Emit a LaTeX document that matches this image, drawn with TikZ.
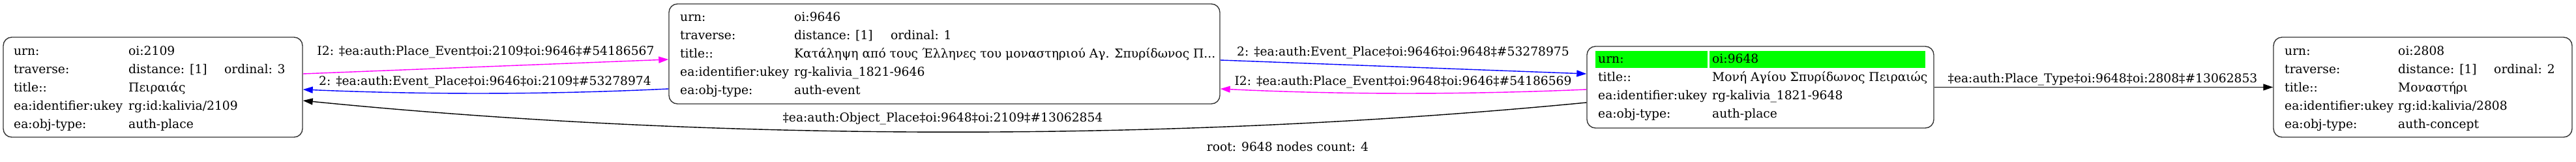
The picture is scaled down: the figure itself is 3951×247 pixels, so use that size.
\documentclass[tikz,border=0pt]{standalone}
\usepackage{fontspec}
\setmainfont{DejaVu Serif}
\usetikzlibrary{arrows.meta}
\definecolor{mag}{HTML}{FF00FF}
\definecolor{blu}{HTML}{0000FF}
\definecolor{grn}{HTML}{00FF00}
\newcommand{\dfont}{\fontsize{18.7}{22}\selectfont}
\begin{document}
\begin{tikzpicture}[x=1pt,y=-1pt,
  box/.style={draw=black!80, line width=1.4pt, rounded corners=13pt, inner sep=0pt},
  cell/.style={inner sep=0pt, anchor=base west, font=\dfont},
  elabel/.style={inner sep=0pt, font=\dfont},
  conn/.style={line width=1.4pt, -{Triangle[length=15pt,width=10pt]}},
]
\useasboundingbox (0,0) rectangle (3951,247);

% ---- node oi:2109
\node[box, minimum width=459pt, minimum height=153pt] (n2109) at (234.5,133.5) {};
\node[cell] (a1) at (21,84) {urn:};
\node[cell] (av1) at (197,84) {oi:2109};
\node[cell] (a2) at (21,112) {traverse:};
\node[cell] (av2) at (197,112) {distance: [1]};
\node[cell] (ao) at (344,112) {ordinal: 3};
\node[cell] (a3) at (21,140) {title::};
\node[cell] (av3) at (197,140) {Πειραιάς};
\node[cell] (a4) at (21,168) {ea:identifier:ukey};
\node[cell] (av4) at (197,168) {rg:id:kalivia/2109};
\node[cell] (a5) at (21,196) {ea:obj-type:};
\node[cell] (av5) at (197,196) {auth-place};

% ---- node oi:9646
\node[box, minimum width=845pt, minimum height=153pt] (n9646) at (1448.5,82.5) {};
\node[cell] (b1) at (1043,32) {urn:};
\node[cell] (bv1) at (1218,32) {oi:9646};
\node[cell] (b2) at (1043,60) {traverse:};
\node[cell] (bv2) at (1218,60) {distance: [1]};
\node[cell] (bo) at (1366,60) {ordinal: 1};
\node[cell] (b3) at (1043,88) {title::};
\node[cell] (bv3) at (1218,88) {Κατάληψη από τους Έλληνες του μοναστηριού Αγ. Σπυρίδωνος Π...};
\node[cell] (b4) at (1043,116) {ea:identifier:ukey};
\node[cell] (bv4) at (1218,116) {rg-kalivia\_1821-9646};
\node[cell] (b5) at (1043,144) {ea:obj-type:};
\node[cell] (bv5) at (1218,144) {auth-event};

% ---- node oi:9648 (root)
\node[box, minimum width=532pt, minimum height=125pt] (n9648) at (2700,133.5) {};
\fill[grn] (2447,78) rectangle (2619,104);
\fill[grn] (2622,78) rectangle (2953,104);
\node[cell] (c1) at (2451,96) {urn:};
\node[cell] (cv1) at (2626,96) {oi:9648};
\node[cell] (c2) at (2451,124) {title::};
\node[cell] (cv2) at (2626,124) {Μονή Αγίου Σπυρίδωνος Πειραιώς};
\node[cell] (c3) at (2451,152) {ea:identifier:ukey};
\node[cell] (cv3) at (2626,152) {rg-kalivia\_1821-9648};
\node[cell] (c4) at (2451,180) {ea:obj-type:};
\node[cell] (cv4) at (2626,180) {auth-place};

% ---- node oi:2808
\node[box, minimum width=458pt, minimum height=153pt] (n2808) at (3716,133.5) {};
\node[cell] (d1) at (3504,84) {urn:};
\node[cell] (dv1) at (3678,84) {oi:2808};
\node[cell] (d2) at (3504,112) {traverse:};
\node[cell] (dv2) at (3678,112) {distance: [1]};
\node[cell] (do) at (3825,112) {ordinal: 2};
\node[cell] (d3) at (3504,140) {title::};
\node[cell] (dv3) at (3678,140) {Μοναστήρι};
\node[cell] (d4) at (3504,168) {ea:identifier:ukey};
\node[cell] (dv4) at (3678,168) {rg:id:kalivia/2808};
\node[cell] (d5) at (3504,196) {ea:obj-type:};
\node[cell] (dv5) at (3678,196) {auth-concept};

% ---- connectors
\draw[conn, mag] ([yshift=20.5pt]n2109.east) -- ([yshift=-8.5pt]n9646.west);
\draw[conn, blu] ([yshift=-53.5pt]n9646.west) .. controls (839,145) and (651,145) .. ([yshift=-3.5pt]n2109.east);
\draw[conn, black] ([yshift=-23.5pt]n9648.west) .. controls (1800,218) and (1100,217) .. ([yshift=-20.5pt]n2109.east);
\draw[conn, blu] ([yshift=-9.5pt]n9646.east) -- ([yshift=20.5pt]n9648.west);
\draw[conn, mag] ([yshift=-3.5pt]n9648.west) .. controls (2246,145) and (2058,145) .. ([yshift=-53.5pt]n9646.east);
\draw[conn, black] (n9648.east) -- (n2808.west);

% ---- connector labels
\node[elabel] (l1) at (745,80) {I2: ‡ea:auth:Place\_Event‡oi:2109‡oi:9646‡\#54186567};
\node[elabel] (l2) at (744,126) {2: ‡ea:auth:Event\_Place‡oi:9646‡oi:2109‡\#53278974};
\node[elabel] (l3) at (1446,182) {‡ea:auth:Object\_Place‡oi:9648‡oi:2109‡\#13062854};
\node[elabel] (l4) at (2152,81) {2: ‡ea:auth:Event\_Place‡oi:9646‡oi:9648‡\#53278975};
\node[elabel] (l5) at (2152,126) {I2: ‡ea:auth:Place\_Event‡oi:9648‡oi:9646‡\#54186569};
\node[elabel] (l6) at (3225,122) {‡ea:auth:Place\_Type‡oi:9648‡oi:2808‡\#13062853};

\node[elabel] (root) at (1975,225) {root: 9648 nodes count: 4};
\end{tikzpicture}
\end{document}
